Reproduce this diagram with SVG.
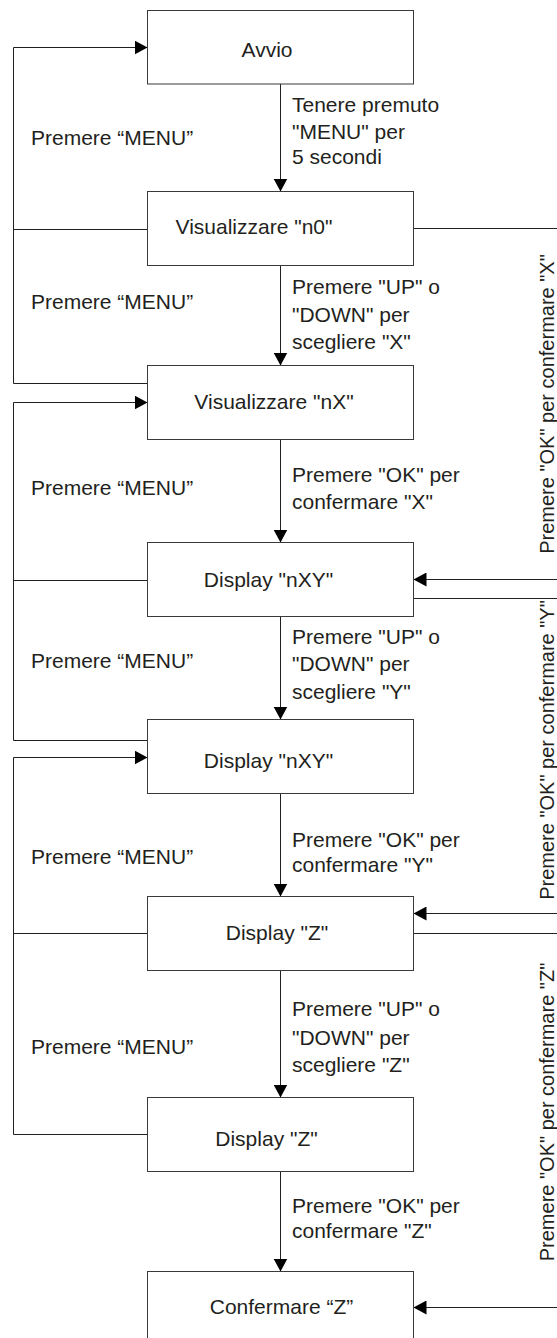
<svg xmlns="http://www.w3.org/2000/svg" width="557" height="1338" viewBox="0 0 557 1338">
<style>
.box{fill:#fff;stroke:#3a3a3a;stroke-width:1}
.ln{fill:none;stroke:#231f20;stroke-width:1}
.t{font-family:"Liberation Sans",Arial,sans-serif;font-size:21px;fill:#231f20}
.c{text-anchor:middle}
.r{font-family:"Liberation Sans",Arial,sans-serif;font-size:20px;fill:#231f20;text-anchor:middle}
</style>
<defs>
<marker id="ah" markerUnits="userSpaceOnUse" markerWidth="14" markerHeight="14" refX="13" refY="7" orient="auto">
<path d="M0,0 L13,7 L0,14 z" fill="#000"/>
</marker>
</defs>
<rect width="557" height="1338" fill="#fff"/>
<g id="connectors">
<line class="ln" x1="280.5" y1="84" x2="280.5" y2="191.5" marker-end="url(#ah)"/>
<line class="ln" x1="280.5" y1="265.5" x2="280.5" y2="365.5" marker-end="url(#ah)"/>
<line class="ln" x1="280.5" y1="439.5" x2="280.5" y2="542.5" marker-end="url(#ah)"/>
<line class="ln" x1="280.5" y1="616.5" x2="280.5" y2="719.5" marker-end="url(#ah)"/>
<line class="ln" x1="280.5" y1="793.5" x2="280.5" y2="896.5" marker-end="url(#ah)"/>
<line class="ln" x1="280.5" y1="970.5" x2="280.5" y2="1097.5" marker-end="url(#ah)"/>
<line class="ln" x1="280.5" y1="1171.5" x2="280.5" y2="1271.5" marker-end="url(#ah)"/>
<polyline class="ln" points="147.5,383.5 13.5,383.5 13.5,47.5 147.5,47.5" marker-end="url(#ah)"/>
<line class="ln" x1="13.5" y1="229.5" x2="147.5" y2="229.5"/>
<polyline class="ln" points="147.5,740.5 13.5,740.5 13.5,402.5 147.5,402.5" marker-end="url(#ah)"/>
<line class="ln" x1="13.5" y1="580.5" x2="147.5" y2="580.5"/>
<polyline class="ln" points="147.5,1134.5 13.5,1134.5 13.5,757.5 147.5,757.5" marker-end="url(#ah)"/>
<line class="ln" x1="13.5" y1="933.5" x2="147.5" y2="933.5"/>
<line class="ln" x1="413.5" y1="228.5" x2="557" y2="228.5"/>
<line class="ln" x1="557" y1="579.5" x2="413.5" y2="579.5" marker-end="url(#ah)"/>
<line class="ln" x1="413.5" y1="598.5" x2="557" y2="598.5"/>
<line class="ln" x1="557" y1="913.5" x2="413.5" y2="913.5" marker-end="url(#ah)"/>
<line class="ln" x1="413.5" y1="933.5" x2="557" y2="933.5"/>
<line class="ln" x1="557" y1="1307.5" x2="413.5" y2="1307.5" marker-end="url(#ah)"/>
</g>
<g id="labels">
<text class="t" x="292" y="112">Tenere premuto</text>
<text class="t" x="292" y="139">"MENU" per</text>
<text class="t" x="292" y="164">5 secondi</text>
<text class="t" x="292" y="294">Premere "UP" o</text>
<text class="t" x="292" y="322">"DOWN" per</text>
<text class="t" x="292" y="349">scegliere "X"</text>
<text class="t" x="292" y="482">Premere "OK" per</text>
<text class="t" x="292" y="509">confermare "X"</text>
<text class="t" x="292" y="644">Premere "UP" o</text>
<text class="t" x="292" y="671">"DOWN" per</text>
<text class="t" x="292" y="699">scegliere "Y"</text>
<text class="t" x="292" y="847">Premere "OK" per</text>
<text class="t" x="292" y="872">confermare "Y"</text>
<text class="t" x="292" y="1016">Premere "UP" o</text>
<text class="t" x="292" y="1045">"DOWN" per</text>
<text class="t" x="292" y="1072">scegliere "Z"</text>
<text class="t" x="292" y="1213">Premere "OK" per</text>
<text class="t" x="292" y="1238">confermare "Z"</text>
<text class="t" x="31" y="145">Premere “MENU”</text>
<text class="t" x="31" y="309">Premere “MENU”</text>
<text class="t" x="31" y="495">Premere “MENU”</text>
<text class="t" x="31" y="668">Premere “MENU”</text>
<text class="t" x="31" y="864">Premere “MENU”</text>
<text class="t" x="31" y="1054">Premere “MENU”</text>
<text class="r" transform="translate(554,404) rotate(-90)">Premere "OK" per confermare "X"</text>
<text class="r" transform="translate(554,750) rotate(-90)">Premere "OK" per confermare "Y"</text>
<text class="r" transform="translate(554,1112) rotate(-90)">Premere "OK" per confermare "Z"</text>
</g>
<g id="n1"><rect class="box" x="147.5" y="10.5" width="266" height="73.5"/><text class="t c" x="267" y="57">Avvio</text></g>
<g id="n2"><rect class="box" x="147.5" y="191.5" width="266" height="74"/><text class="t c" x="254" y="234">Visualizzare "n0"</text></g>
<g id="n3"><rect class="box" x="147.5" y="365.5" width="266" height="74"/><text class="t c" x="274" y="409">Visualizzare "nX"</text></g>
<g id="n4"><rect class="box" x="147.5" y="542.5" width="266" height="74"/><text class="t c" x="268.5" y="587">Display "nXY"</text></g>
<g id="n5"><rect class="box" x="147.5" y="719.5" width="266" height="74"/><text class="t c" x="268.5" y="768">Display "nXY"</text></g>
<g id="n6"><rect class="box" x="147.5" y="896.5" width="266" height="74"/><text class="t c" x="277" y="940">Display "Z"</text></g>
<g id="n7"><rect class="box" x="147.5" y="1097.5" width="266" height="74"/><text class="t c" x="266.5" y="1146">Display "Z"</text></g>
<g id="n8"><rect class="box" x="147.5" y="1271.5" width="266" height="74"/><text class="t c" x="281.5" y="1314">Confermare “Z”</text></g>
</svg>
